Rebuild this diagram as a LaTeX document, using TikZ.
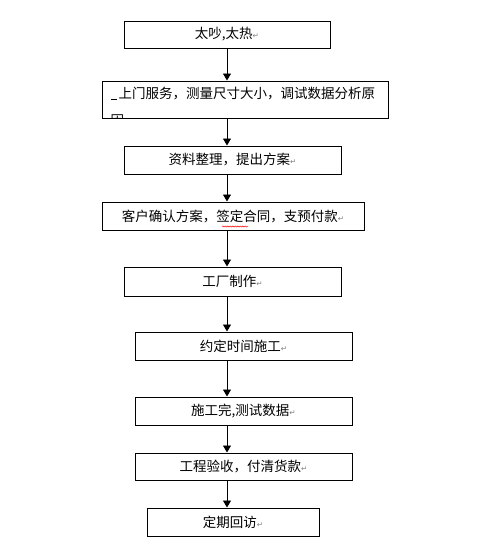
\documentclass[tikz,border=0pt]{standalone}
\usepackage{fontspec}
\setmainfont{Noto Sans CJK SC}
\newfontfamily\symfont{DejaVu Sans}
\usetikzlibrary{arrows.meta,decorations.pathmorphing}
\newcommand{\pmk}{{\symfont\fontsize{7.5}{7.5}\selectfont\color{gray}↵}}

\begin{document}
\begin{tikzpicture}[x=1pt,y=-1pt,
    box/.style={draw,rectangle,line width=1pt,inner sep=0pt,font=\fontsize{13.5}{16}\selectfont},
    arr/.style={line width=0.9pt,-{Triangle[length=7pt,width=8pt]}}]
    \useasboundingbox (0,0) rectangle (490,555);
    \coordinate (ax) at (227,0);
    % steps
    \node[box,minimum width=206,minimum height=27] (s_1) at (227,34.5)  {太吵,太热\pmk};
    \node[box,minimum width=286,minimum height=37] (s_2) at (245,99.5)  {};
    \node[box,minimum width=217,minimum height=28] (s_3) at (232.5,160) {资料整理，提出方案\pmk};
    \node[box,minimum width=262,minimum height=28] (s_4) at (233,216)   {客户确认方案，签定合同，支预付款\pmk};
    \node[box,minimum width=217,minimum height=29] (s_5) at (232.5,281.5) {工厂制作\pmk};
    \node[box,minimum width=217,minimum height=28] (s_6) at (243.5,346) {约定时间施工\pmk};
    \node[box,minimum width=217,minimum height=28] (s_7) at (243.5,411) {施工完,测试数据\pmk};
    \node[box,minimum width=217,minimum height=27] (s_8) at (243.5,466.5) {工程验收，付清货款\pmk};
    \node[box,minimum width=172,minimum height=28] (s_9) at (233,522)   {定期回访\pmk};
    % text of step 2 runs past the box
    \begin{scope}
        \clip (s_2.south west) rectangle (s_2.north east);
        \node[anchor=north west,inner sep=0pt,align=left,font=\fontsize{13.5}{27}\selectfont] (s_2t)
            at ([xshift=9pt,yshift=-6pt]s_2.north west)
            {\underline{\hspace{6pt}}\hspace{2pt}上门服务，测量尺寸大小，调试数据分析原\\因};
    \end{scope}
    \draw[red,line width=0.5pt,decorate,decoration={snake,amplitude=0.6pt,segment length=2.5pt}]
        ([xshift=-11pt,yshift=4pt]s_4.south) -- ([xshift=15pt,yshift=4pt]s_4.south);
    % arrows
    \foreach \i [count=\j from 2] in {1,...,8}
        \draw[arr] (ax |- s_\i.south) -- (ax |- s_\j.north);
\end{tikzpicture}
\end{document}
